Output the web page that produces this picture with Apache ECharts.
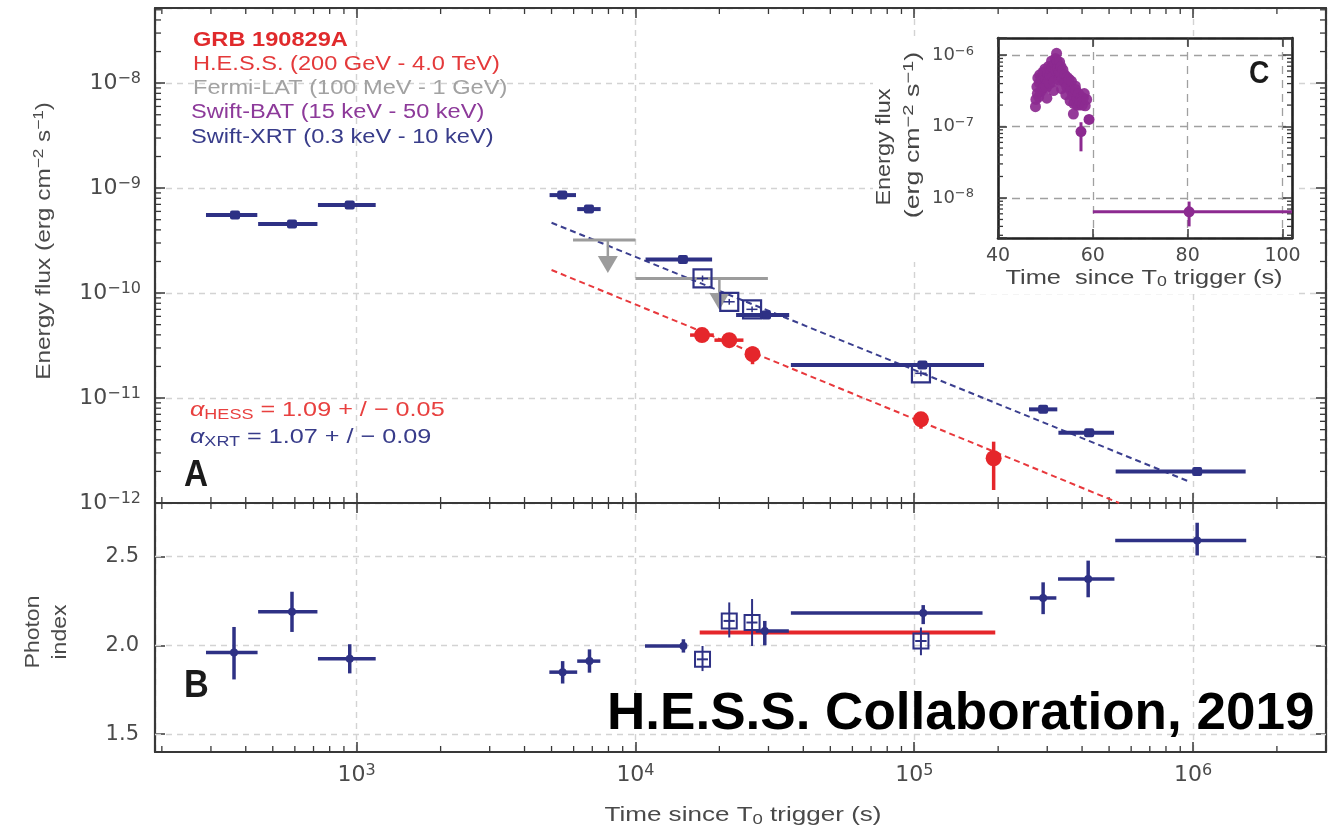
<!DOCTYPE html>
<html>
<head>
<meta charset="utf-8">
<script src="https://cdn.jsdelivr.net/npm/echarts@6/dist/echarts.min.js"></script>
<style>
  html, body { margin: 0; padding: 0; background: #fff; }
  #chart { width: 1339px; height: 833px; }
</style>
</head>
<body>
<div id="chart"></div>
<script>
// ---------------- data ----------------
// time axis range (s) and flux axis range (erg cm^-2 s^-1)
const T_MIN = 189, T_MAX = 3.0e6;
const FLUX_MIN = 1e-12, FLUX_MAX = 5.2e-8;
const INDEX_MIN = 1.4, INDEX_MAX = 2.8;
const INSET_T_MIN = 40, INSET_T_MAX = 102;
const INSET_F_MIN = 2.75e-9, INSET_F_MAX = 1.74e-6;

// Swift-XRT energy flux, filled points: [t, tLo, tHi, flux, fluxLo, fluxHi]
const xrtFlux = [
  [366, 288, 440, 5.53e-10, 5.53e-10, 5.53e-10],
  [586, 443, 723, 4.54e-10, 4.54e-10, 4.54e-10],
  [944, 726, 1170, 6.89e-10, 6.89e-10, 6.89e-10],
  [5460, 4920, 6120, 8.58e-10, 8.58e-10, 8.58e-10],
  [6810, 6180, 7500, 6.31e-10, 6.31e-10, 6.31e-10],
  [14800, 10870, 18830, 2.09e-10, 2.09e-10, 2.09e-10],
  [29400, 22960, 35600, 6.17e-11, 6.17e-11, 6.17e-11],
  [107000, 36100, 178000, 2.06e-11, 2.06e-11, 2.06e-11],
  [290000, 258000, 326000, 7.8e-12, 7.8e-12, 7.8e-12],
  [424000, 329000, 521000, 4.68e-12, 4.68e-12, 4.68e-12],
  [1035000, 528000, 1545000, 2.0e-12, 2.0e-12, 2.0e-12]
];
// Swift-XRT energy flux, open squares: [t, tLo, tHi, flux, fluxLo, fluxHi]
const xrtFluxOpen = [
  [17400, 16600, 18200, 1.38e-10, 1.29e-10, 1.47e-10],
  [21700, 20700, 22700, 8.26e-11, 7.75e-11, 8.8e-11],
  [26200, 25000, 27400, 7.0e-11, 6.55e-11, 7.45e-11],
  [105700, 100800, 110800, 1.72e-11, 1.61e-11, 1.83e-11]
];
// H.E.S.S. energy flux: [t, tLo, tHi, flux, fluxLo, fluxHi]
const hessFlux = [
  [17330, 15700, 19100, 3.98e-11, 3.7e-11, 4.3e-11],
  [21700, 19200, 24400, 3.56e-11, 3.3e-11, 3.85e-11],
  [26300, 25000, 27700, 2.62e-11, 2.1e-11, 3.1e-11],
  [105700, 101000, 110500, 6.27e-12, 5.1e-12, 7.3e-12],
  [192700, 192700, 192700, 2.67e-12, 1.33e-12, 3.84e-12]
];
// Fermi-LAT upper limits: [tLo, tHi, tArrow, flux, arrowTip]
const fermiUL = [
  [5970, 10000, 7960, 3.2e-10, 1.55e-10],
  [10000, 29860, 20000, 1.38e-10, 6.9e-11]
];
// power-law decay fits: [t, flux] end points
const xrtFit = [[5000, 4.68e-10], [968000, 1.6e-12]];
const hessFit = [[5000, 1.66e-10], [543000, 1.0e-12]];

// Swift-XRT photon index, filled points: [t, tLo, tHi, index, indexLo, indexHi]
const xrtIndex = [
  [363, 288, 441, 1.959, 1.808, 2.103],
  [586, 443, 723, 2.188, 2.075, 2.301],
  [944, 726, 1170, 1.925, 1.842, 2.006],
  [5480, 4910, 6180, 1.849, 1.785, 1.911],
  [6840, 6180, 7480, 1.911, 1.846, 1.977],
  [14860, 10820, 15070, 1.996, 1.959, 2.034],
  [29100, 27000, 35500, 2.081, 2.0, 2.137],
  [107700, 36100, 175800, 2.181, 2.119, 2.226],
  [290000, 260000, 323500, 2.266, 2.175, 2.354],
  [420700, 328000, 522600, 2.373, 2.27, 2.476],
  [1035000, 526000, 1552000, 2.589, 2.505, 2.689]
];
// Swift-XRT photon index, open squares
const xrtIndexOpen = [
  [17400, 16600, 18200, 1.921, 1.855, 1.996],
  [21700, 20700, 22700, 2.137, 2.044, 2.241],
  [26200, 25000, 27400, 2.128, 1.996, 2.26],
  [105700, 100800, 110800, 2.024, 1.944, 2.1]
];
// H.E.S.S. photon index over its time span
const hessIndex = [[17000, 2.072], [195300, 2.072]];

// Swift-BAT light curve (inset): [t, flux]
const batFlux = [
  [47.9, 1.9e-7], [48.0, 2.4e-7], [48.2, 3.6e-7], [48.3, 2.9e-7], [48.4, 4.8e-7],
  [48.6, 2.6e-7], [48.7, 4.1e-7], [48.8, 5.3e-7], [49.0, 3.1e-7], [49.1, 4.6e-7],
  [49.2, 4.3e-7], [49.4, 3.4e-7], [49.5, 5.8e-7], [49.7, 3.6e-7], [49.8, 5.0e-7],
  [49.9, 6.4e-7], [50.1, 4.6e-7], [50.2, 3.5e-7], [50.3, 2.5e-7], [50.5, 5.5e-7],
  [50.6, 4.4e-7], [50.7, 7.0e-7], [50.9, 4.0e-7], [51.0, 5.2e-7], [51.1, 6.0e-7],
  [51.3, 8.3e-7], [51.4, 6.8e-7], [51.5, 5.0e-7], [51.7, 3.2e-7], [51.8, 4.3e-7],
  [51.9, 7.6e-7], [52.1, 9.0e-7], [52.2, 6.0e-7], [52.35, 1.06e-6], [52.5, 8.2e-7],
  [52.6, 6.6e-7], [52.8, 4.5e-7], [52.9, 5.8e-7], [53.0, 8.0e-7], [53.2, 5.6e-7],
  [53.3, 6.9e-7], [53.4, 3.4e-7], [53.6, 4.6e-7], [53.7, 6.2e-7], [54.0, 4.2e-7],
  [54.1, 5.3e-7], [54.3, 2.8e-7], [54.5, 3.6e-7], [54.6, 4.9e-7], [54.9, 3.8e-7],
  [55.0, 4.6e-7], [55.2, 2.3e-7], [55.4, 3.2e-7], [55.5, 4.3e-7], [55.7, 2.7e-7],
  [55.9, 1.5e-7], [56.0, 2.1e-7], [56.1, 3.0e-7], [56.3, 3.7e-7], [56.4, 3.3e-7],
  [56.6, 2.0e-7], [56.7, 2.5e-7], [57.0, 2.9e-7], [57.1, 2.0e-7], [57.3, 2.2e-7],
  [57.6, 2.6e-7], [57.8, 2.0e-7], [58.0, 2.5e-7], [58.2, 2.9e-7], [58.4, 1.95e-7],
  [58.7, 2.4e-7]
];
// Swift-BAT points with visible error bars: [t, tLo, tHi, flux, fluxLo, fluxHi]
const batErr = [
  [57.5, 57.5, 57.5, 8.5e-8, 4.5e-8, 1.15e-7],
  [59.2, 59.2, 59.2, 1.26e-7, 1.1e-7, 1.4e-7],
  [80.3, 60, 102, 6.4e-9, 4.0e-9, 8.9e-9]
];

// ---------------- style ----------------
const FONT = '"Liberation Sans", Arial, Helvetica, sans-serif';
const TICKFONT = '"DejaVu Sans", Verdana, sans-serif';
const INK = '#383838';
const LABEL = '#4a4a4a';
const XRT = '#2e3185';
const HESS = '#e5262b';
const LAT = '#9c9c9c';
const BAT = '#8c2a90';

// decade positions get "10^n" labels, other ticks none
function powerLabel(v) {
  const e = Math.log10(v);
  const r = Math.round(e);
  if (Math.abs(e - r) > 1e-6) return '';
  return '{b|10}{s|' + (r < 0 ? '\u2212' + (-r) : String(r)) + '}';
}
function powerRich(base, sup) {
  return {
    b: { fontSize: base, fontFamily: TICKFONT, color: LABEL, lineHeight: base + 3 },
    s: { fontSize: sup, fontFamily: TICKFONT, color: LABEL, lineHeight: sup, verticalAlign: 'top' }
  };
}
const frameLine = { show: true, onZero: false, lineStyle: { color: INK, width: 2.2 } };
const insetFrame = { show: true, onZero: false, lineStyle: { color: '#222', width: 2.6 } };
function ticks(len, extra) {
  return Object.assign({ show: true, inside: true, length: len, lineStyle: { color: INK, width: 1.5 } }, extra || {});
}
const mainGrid = { show: true, lineStyle: { color: '#d3d3d3', width: 1.4, type: [6, 5] } };
const insetGrid = { show: true, lineStyle: { color: '#a0a0a0', width: 1.3, type: [8, 6] } };
const noLabel = { show: false };
const noSplit = { show: false };

// ---------------- mark renderers ----------------
function dot(w, h) {
  return (c, color) => ({ type: 'rect', shape: { x: c[0] - w / 2, y: c[1] - h / 2, width: w, height: h, r: 2 }, style: { fill: color } });
}
function disc(r) {
  return (c, color) => ({ type: 'circle', shape: { cx: c[0], cy: c[1], r: r }, style: { fill: color } });
}
function box(s, lw) {
  return (c, color) => ({ type: 'rect', shape: { x: c[0] - s / 2, y: c[1] - s / 2, width: s, height: s }, style: { fill: 'none', stroke: color, lineWidth: lw } });
}
// horizontal + vertical error bars with a central marker
function errorCross(color, width, marker) {
  return function (params, api) {
    const t = api.value(0), tLo = api.value(1), tHi = api.value(2);
    const v = api.value(3), vLo = api.value(4), vHi = api.value(5);
    const c = api.coord([t, v]);
    const xl = api.coord([tLo, v])[0], xr = api.coord([tHi, v])[0];
    const yl = api.coord([t, vLo])[1], yh = api.coord([t, vHi])[1];
    const st = { stroke: color, lineWidth: width };
    const kids = [];
    if (xr - xl > 0.5) kids.push({ type: 'line', shape: { x1: xl, y1: c[1], x2: xr, y2: c[1] }, style: st });
    if (Math.abs(yl - yh) > 0.5) kids.push({ type: 'line', shape: { x1: c[0], y1: yl, x2: c[0], y2: yh }, style: st });
    if (marker) kids.push(marker(c, color));
    return { type: 'group', children: kids };
  };
}
// upper limit: horizontal bar with a downward arrow
function upperLimit(params, api) {
  const tLo = api.value(0), tHi = api.value(1), tc = api.value(2), f = api.value(3), tip = api.value(4);
  const c = api.coord([tc, f]);
  const xl = api.coord([tLo, f])[0], xr = api.coord([tHi, f])[0];
  const yt = api.coord([tc, tip])[1];
  const head = 17, half = 10;
  return {
    type: 'group', children: [
      { type: 'line', shape: { x1: xl, y1: c[1], x2: xr, y2: c[1] }, style: { stroke: LAT, lineWidth: 3 } },
      { type: 'line', shape: { x1: c[0], y1: c[1], x2: c[0], y2: yt - head }, style: { stroke: LAT, lineWidth: 2.5 } },
      { type: 'polygon', shape: { points: [[c[0] - half, yt - head], [c[0] + half, yt - head], [c[0], yt]] }, style: { fill: LAT } }
    ]
  };
}
// short inward minor ticks on both sides of a grid
function minorTicks(xi, yi, dim, values, ref, len, z) {
  return {
    type: 'custom', xAxisIndex: xi, yAxisIndex: yi, silent: true, z: z, animation: false,
    data: values.map(v => dim === 'x' ? [v, ref] : [ref, v]),
    renderItem(params, api) {
      const cs = params.coordSys;
      const p = api.coord([api.value(0), api.value(1)]);
      const st = { stroke: INK, lineWidth: 1.3 };
      if (dim === 'x') {
        return { type: 'group', children: [
          { type: 'line', shape: { x1: p[0], y1: cs.y, x2: p[0], y2: cs.y + len }, style: st },
          { type: 'line', shape: { x1: p[0], y1: cs.y + cs.height, x2: p[0], y2: cs.y + cs.height - len }, style: st }
        ] };
      }
      return { type: 'group', children: [
        { type: 'line', shape: { x1: cs.x, y1: p[1], x2: cs.x + len, y2: p[1] }, style: st },
        { type: 'line', shape: { x1: cs.x + cs.width, y1: p[1], x2: cs.x + cs.width - len, y2: p[1] }, style: st }
      ] };
    }
  };
}
function minorDecades(lo, hi, nFrom, nTo) {
  const out = [];
  for (let n = nFrom; n <= nTo; n++) {
    for (let k = 2; k <= 9; k++) {
      const v = k * Math.pow(10, n);
      if (v > lo * 1.001 && v < hi * 0.999) out.push(v);
    }
  }
  return out;
}
const minorT = minorDecades(T_MIN, T_MAX, 2, 6);
const minorF = minorDecades(FLUX_MIN, FLUX_MAX, -12, -8);
const minorInsetF = minorDecades(INSET_F_MIN, INSET_F_MAX, -9, -6);

// ---------------- text helpers ----------------
function txt(x, y, text, opt) {
  opt = opt || {};
  return {
    type: 'text', x: x, y: y, z: 100,
    rotation: opt.rotation || 0, scaleX: opt.scaleX || 1,
    style: {
      text: text, rich: opt.rich,
      font: opt.font || ('19px ' + FONT), fill: opt.fill || LABEL,
      align: opt.align || 'left', textAlign: opt.align || 'left',
      verticalAlign: 'middle', textVerticalAlign: 'middle'
    }
  };
}
function richSet(size, color, supSize) {
  return {
    n: { fontSize: size, fontFamily: FONT, fill: color, lineHeight: size + 3 },
    s: { fontSize: supSize, fontFamily: FONT, fill: color, lineHeight: supSize, verticalAlign: 'top' },
    d: { fontSize: supSize, fontFamily: FONT, fill: color, lineHeight: supSize, verticalAlign: 'bottom' },
    a: { fontSize: size, fontFamily: FONT, fill: color, fontStyle: 'italic', lineHeight: size + 3 }
  };
}

// ---------------- chart ----------------
const chart = echarts.init(document.getElementById('chart'), null, { renderer: 'canvas' });

const option = {
  animation: false,
  backgroundColor: '#ffffff',
  grid: [
    { left: 155, top: 8, width: 1171, height: 495, outerBoundsMode: 'none' },
    { left: 155, top: 503, width: 1171, height: 249, outerBoundsMode: 'none' },
    { left: 998, top: 38, width: 294, height: 200, outerBoundsMode: 'none', z: 60 }
  ],
  xAxis: [
    { type: 'log', gridIndex: 0, position: 'bottom', min: T_MIN, max: T_MAX, axisLine: frameLine, axisTick: ticks(10), axisLabel: noLabel, splitLine: mainGrid },
    { type: 'log', gridIndex: 0, position: 'top', min: T_MIN, max: T_MAX, axisLine: frameLine, axisTick: ticks(10), axisLabel: noLabel, splitLine: noSplit },
    { type: 'log', gridIndex: 1, position: 'bottom', min: T_MIN, max: T_MAX, axisLine: frameLine, axisTick: ticks(10),
      axisLabel: { formatter: powerLabel, margin: 11, rich: powerRich(22, 16) }, splitLine: mainGrid },
    { type: 'log', gridIndex: 1, position: 'top', min: T_MIN, max: T_MAX, axisLine: frameLine, axisTick: ticks(10), axisLabel: noLabel, splitLine: noSplit },
    { type: 'value', gridIndex: 2, position: 'bottom', min: INSET_T_MIN, max: INSET_T_MAX, interval: 20, z: 60,
      axisLine: insetFrame, axisTick: ticks(9),
      axisLabel: { formatter: v => (v % 20 === 0 ? String(v) : ''), fontSize: 19, fontFamily: TICKFONT, color: LABEL, margin: 9 },
      splitLine: insetGrid },
    { type: 'value', gridIndex: 2, position: 'top', min: INSET_T_MIN, max: INSET_T_MAX, interval: 20, z: 60,
      axisLine: insetFrame, axisTick: ticks(9), axisLabel: noLabel, splitLine: noSplit }
  ],
  yAxis: [
    { type: 'log', gridIndex: 0, position: 'left', min: FLUX_MIN, max: FLUX_MAX, axisLine: frameLine, axisTick: ticks(10),
      axisLabel: { formatter: powerLabel, margin: 14, rich: powerRich(22, 16) }, splitLine: mainGrid },
    { type: 'log', gridIndex: 0, position: 'right', min: FLUX_MIN, max: FLUX_MAX, axisLine: frameLine, axisTick: ticks(10), axisLabel: noLabel, splitLine: noSplit },
    { type: 'value', gridIndex: 1, position: 'left', min: INDEX_MIN, max: INDEX_MAX, axisLine: frameLine,
      axisTick: ticks(10, { customValues: [1.5, 2.0, 2.5] }),
      axisLabel: { customValues: [1.5, 2.0, 2.5], formatter: v => v.toFixed(1), fontSize: 21, fontFamily: TICKFONT, color: LABEL, margin: 16 },
      splitLine: noSplit },
    { type: 'value', gridIndex: 1, position: 'right', min: INDEX_MIN, max: INDEX_MAX, axisLine: frameLine,
      axisTick: ticks(10, { customValues: [1.5, 2.0, 2.5] }), axisLabel: noLabel, splitLine: noSplit },
    { type: 'log', gridIndex: 2, position: 'left', min: INSET_F_MIN, max: INSET_F_MAX, z: 60, axisLine: insetFrame, axisTick: ticks(9),
      axisLabel: { formatter: powerLabel, margin: 24, rich: powerRich(18, 13) }, splitLine: insetGrid },
    { type: 'log', gridIndex: 2, position: 'right', min: INSET_F_MIN, max: INSET_F_MAX, z: 60, axisLine: insetFrame, axisTick: ticks(9),
      axisLabel: noLabel, splitLine: noSplit }
  ],
  series: [
    // minor ticks
    minorTicks(0, 0, 'x', minorT, 1e-10, 6, 1),
    minorTicks(0, 0, 'y', minorF, 1000, 6, 1),
    minorTicks(2, 2, 'x', minorT, 2.0, 6, 1),
    minorTicks(4, 4, 'y', minorInsetF, 50, 5, 61),

    // panel A: decay fits
    { type: 'line', xAxisIndex: 0, yAxisIndex: 0, data: xrtFit, symbol: 'none', z: 3, silent: true,
      lineStyle: { color: '#3b3f8f', width: 2, type: [6, 4] } },
    { type: 'line', xAxisIndex: 0, yAxisIndex: 0, data: hessFit, symbol: 'none', z: 3, silent: true,
      lineStyle: { color: '#e8383c', width: 2, type: [6, 4] } },
    // Fermi-LAT upper limits
    { type: 'custom', xAxisIndex: 0, yAxisIndex: 0, z: 4, data: fermiUL, renderItem: upperLimit },
    // Swift-XRT flux
    { type: 'custom', xAxisIndex: 0, yAxisIndex: 0, z: 5, data: xrtFlux, renderItem: errorCross(XRT, 4, dot(10, 9)) },
    { type: 'custom', xAxisIndex: 0, yAxisIndex: 0, z: 6, data: xrtFluxOpen, renderItem: errorCross(XRT, 1.5, box(18, 2.2)) },
    // H.E.S.S. flux
    { type: 'custom', xAxisIndex: 0, yAxisIndex: 0, z: 7, data: hessFlux, renderItem: errorCross(HESS, 3.5, disc(8)) },

    // panel B: H.E.S.S. index with horizontal grid lines
    { type: 'line', xAxisIndex: 2, yAxisIndex: 2, data: hessIndex, symbol: 'none', z: 3, silent: true,
      lineStyle: { color: HESS, width: 4 },
      markLine: { silent: true, symbol: 'none', label: { show: false },
        lineStyle: { color: '#d3d3d3', width: 1.4, type: [6, 5] },
        data: [{ yAxis: 1.5 }, { yAxis: 2.0 }, { yAxis: 2.5 }] } },
    { type: 'custom', xAxisIndex: 2, yAxisIndex: 2, z: 5, data: xrtIndex, renderItem: errorCross(XRT, 3.5, disc(4)) },
    { type: 'custom', xAxisIndex: 2, yAxisIndex: 2, z: 6, data: xrtIndexOpen, renderItem: errorCross(XRT, 2, box(15, 2)) },

    // inset: Swift-BAT
    { type: 'scatter', xAxisIndex: 4, yAxisIndex: 4, z: 62, data: batFlux, symbol: 'circle', symbolSize: 11,
      itemStyle: { color: BAT, opacity: 0.92 }, silent: true },
    { type: 'custom', xAxisIndex: 4, yAxisIndex: 4, z: 62, data: batErr, renderItem: errorCross(BAT, 3, disc(5.5)) }
  ],
  graphic: [
    // inset background
    { type: 'rect', z: 50, shape: { x: 873, y: 38, width: 424, height: 224 }, style: { fill: '#ffffff' } },
    { type: 'rect', z: 50, shape: { x: 975, y: 262, width: 322, height: 32 }, style: { fill: '#ffffff' } },

    // legend block
    txt(193, 40, 'GRB 190829A', { font: 'bold 20px ' + FONT, fill: '#e02a2c', scaleX: 1.18 }),
    txt(193, 64, 'H.E.S.S. (200 GeV - 4.0 TeV)', { font: '20px ' + FONT, fill: '#e4393a', scaleX: 1.18 }),
    txt(193, 88, 'Fermi-LAT (100 MeV - 1 GeV)', { font: '20px ' + FONT, fill: '#a2a2a2', scaleX: 1.18 }),
    txt(191, 112, 'Swift-BAT (15 keV - 50 keV)', { font: '20px ' + FONT, fill: '#8d3a9a', scaleX: 1.18 }),
    txt(191, 137, 'Swift-XRT (0.3 keV - 10 keV)', { font: '20px ' + FONT, fill: '#383c8a', scaleX: 1.18 }),

    // decay indices
    txt(190, 410, '{a|α}{d|HESS}{n| = 1.09 + / − 0.05}', { rich: richSet(21, '#e8403f', 15), scaleX: 1.2 }),
    txt(190, 437, '{a|α}{d|XRT}{n| = 1.07 + / − 0.09}', { rich: richSet(21, '#383c8a', 15), scaleX: 1.2 }),

    // panel letters
    txt(184, 476, 'A', { font: 'bold 37px ' + FONT, fill: '#1a1a1a', scaleX: 0.9 }),
    txt(184, 686, 'B', { font: 'bold 39px ' + FONT, fill: '#1a1a1a', scaleX: 0.88 }),
    txt(1249, 74, 'C', { font: 'bold 32px ' + FONT, fill: '#1a1a1a', scaleX: 0.88 }),

    // axis titles
    txt(44, 241, '{n|Energy flux (erg cm}{s|−2}{n| s}{s|−1}{n|)}', { rich: richSet(20, LABEL, 14), align: 'center', rotation: Math.PI / 2, scaleX: 1.22 }),
    txt(33, 632, 'Photon', { font: '20px ' + FONT, align: 'center', rotation: Math.PI / 2, scaleX: 1.15 }),
    txt(60, 632, 'index', { font: '20px ' + FONT, align: 'center', rotation: Math.PI / 2, scaleX: 1.15 }),
    txt(743, 815, '{n|Time since T}{d|0}{n| trigger (s)}', { rich: richSet(21, LABEL, 15), align: 'center', scaleX: 1.24 }),

    // inset titles
    txt(884, 147, 'Energy flux', { font: '20px ' + FONT, fill: '#454545', align: 'center', rotation: Math.PI / 2, scaleX: 1.17 }),
    txt(913, 135, '{n|(erg cm}{s|−2}{n| s}{s|−1}{n|)}', { rich: richSet(20, '#454545', 15), align: 'center', rotation: Math.PI / 2, scaleX: 1.34 }),
    txt(1144, 278, '{n|Time  since T}{d|0}{n| trigger (s)}', { rich: richSet(20, '#454545', 14), align: 'center', scaleX: 1.27 }),

    // credit line
    txt(607, 715, 'H.E.S.S. Collaboration, 2019', { font: 'bold 51px ' + FONT, fill: '#000000', scaleX: 1.04 })
  ]
};

chart.setOption(option);
</script>
</body>
</html>
